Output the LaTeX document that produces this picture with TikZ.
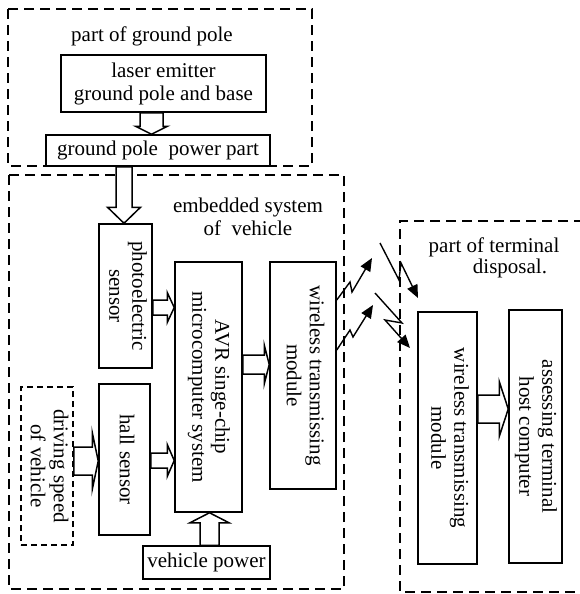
\documentclass[tikz,border=0pt]{standalone}
\usepackage{fontspec}
\setmainfont{Liberation Serif}
\usetikzlibrary{calc,arrows.meta}

% text set top-to-bottom inside a box
\newcommand\vlines[1]{\rotatebox{-90}{\begin{tabular}{@{}c@{}}#1\end{tabular}}}

\tikzset{
  txt/.style={font=\fontsize{21}{23}\selectfont, inner sep=0pt},
  box/.style={draw, line width=1.5pt, inner sep=0pt, align=center,
              font=\fontsize{21}{23}\selectfont},
  region/.style={line width=1.9pt, dash pattern=on 10pt off 6pt},
  inputbox/.style={box, dash pattern=on 6pt off 4pt},
  % hollow block arrow: {half shaft width}{head length}{half head width}
  fat/.style n args={3}{to path={
    let \p1=(\tikztostart), \p2=(\tikztotarget),
        \p3=($(\p2)!#2!(\p1)$) in
    ($(\p1)!#1!90:(\p2)$) -- ($(\p3)!#1!-90:(\p1)$) -- ($(\p3)!#3!-90:(\p1)$)
    -- (\p2) -- ($(\p3)!#3!90:(\p1)$) -- ($(\p3)!#1!90:(\p1)$)
    -- ($(\p1)!#1!-90:(\p2)$) -- cycle}},
  block/.style={draw, fill=white, line width=1.5pt, line join=miter},
  radio/.style={line width=1.4pt, -{Triangle[length=13pt,width=11pt]}}
}

\begin{document}
\begin{tikzpicture}[x=1pt, y=-1pt]
\useasboundingbox (0,0) rectangle (579,594);

% dashed regions
\draw[region] (8,9) rectangle (312,166);
\draw[region] (9,175) rectangle (344,589);
\draw[region] (600,221) -- (400,221) -- (400,592) -- (600,592);

% region titles
\node[txt] (tground) at (152,36) {part of ground pole};
\node[txt, align=center] (temb) at (248,216.5) {embedded system\\of\ \ vehicle};
\node[txt] (tterm1) at (494,247) {part of terminal};
\node[txt] (tterm2) at (510,268) {disposal.};

% ground pole
\node[box, minimum width=205pt, minimum height=57pt] (laser) at (163.5,83.5)
  {laser emitter\\ground pole and base};
\node[box, minimum width=224pt, minimum height=31pt] (power) at (158,150.5)
  {ground pole\ \ power part};

% vehicle
\node[box, minimum width=53pt, minimum height=144pt] (photo) at (125.5,296)
  {\vlines{photoelectric\\sensor}};
\node[box, minimum width=67pt, minimum height=250pt] (avr) at (208.5,387)
  {\vlines{AVR singe-chip\\microcomputer system}};
\node[box, minimum width=66pt, minimum height=227pt] (wl) at (303,375.5)
  {\vlines{wireless transmissing\\module}};
\node[box, minimum width=51pt, minimum height=151pt] (hall) at (124.5,459.5)
  {\vlines{hall sensor}};
\node[inputbox, minimum width=52pt, minimum height=158pt] (drive) at (47,466)
  {\vlines{driving speed\\of vehicle}};
\node[box, minimum width=127pt, minimum height=33pt] (vpower) at (206.5,562.5)
  {vehicle power};

% terminal
\node[box, minimum width=59pt, minimum height=252pt] (twl) at (447.5,438)
  {\vlines{wireless transmissing\\module}};
\node[box, minimum width=53pt, minimum height=253pt] (assess) at (535.5,436.5)
  {\vlines{assessing terminal\\host computer}};

% block arrows
\draw[block] (151.5,0 |- laser.south) to[fat={11.5pt}{8pt}{16pt}] (151.5,0 |- power.north);
\draw[block] (124,0 |- power.south) to[fat={8pt}{16pt}{16.5pt}] (124,0 |- photo.north);
\draw[block] (photo.east |- 0,307.5) to[fat={7.5pt}{7pt}{15pt}] (avr.west |- 0,307.5);
\draw[block] (avr.east |- 0,364.5) to[fat={9.5pt}{5pt}{19.5pt}] (wl.west |- 0,364.5);
\draw[block] (hall.east |- 0,460.5) to[fat={7.5pt}{7pt}{16pt}] (avr.west |- 0,460.5);
\draw[block] (drive.east |- 0,461) to[fat={14pt}{6pt}{28.5pt}] (hall.west |- 0,461);
\draw[block] (209.5,0 |- vpower.north) to[fat={9.5pt}{10pt}{19.5pt}] (209.5,0 |- avr.south);
\draw[block] (twl.east |- 0,409) to[fat={14pt}{9pt}{27.5pt}] (assess.west |- 0,409);

% radio links
\coordinate (out1) at (372,258);
\coordinate (out2) at (373,305);
\coordinate (in1s) at (380,243);
\coordinate (in1) at (418,298);
\coordinate (in2s) at (375,293);
\coordinate (in2) at (410,348);
\draw[radio] (wl.east |- 0,300) -- (350,282) -- (352,292) -- (out1);
\draw[radio] (wl.east |- 0,350) -- (350,330) -- (353,337) -- (out2);
\draw[radio] (in1s) -- (399,280) -- (401,263) -- (in1);
\draw[radio] (in2s) -- (402,323) -- (385,320) -- (in2);
\end{tikzpicture}
\end{document}
